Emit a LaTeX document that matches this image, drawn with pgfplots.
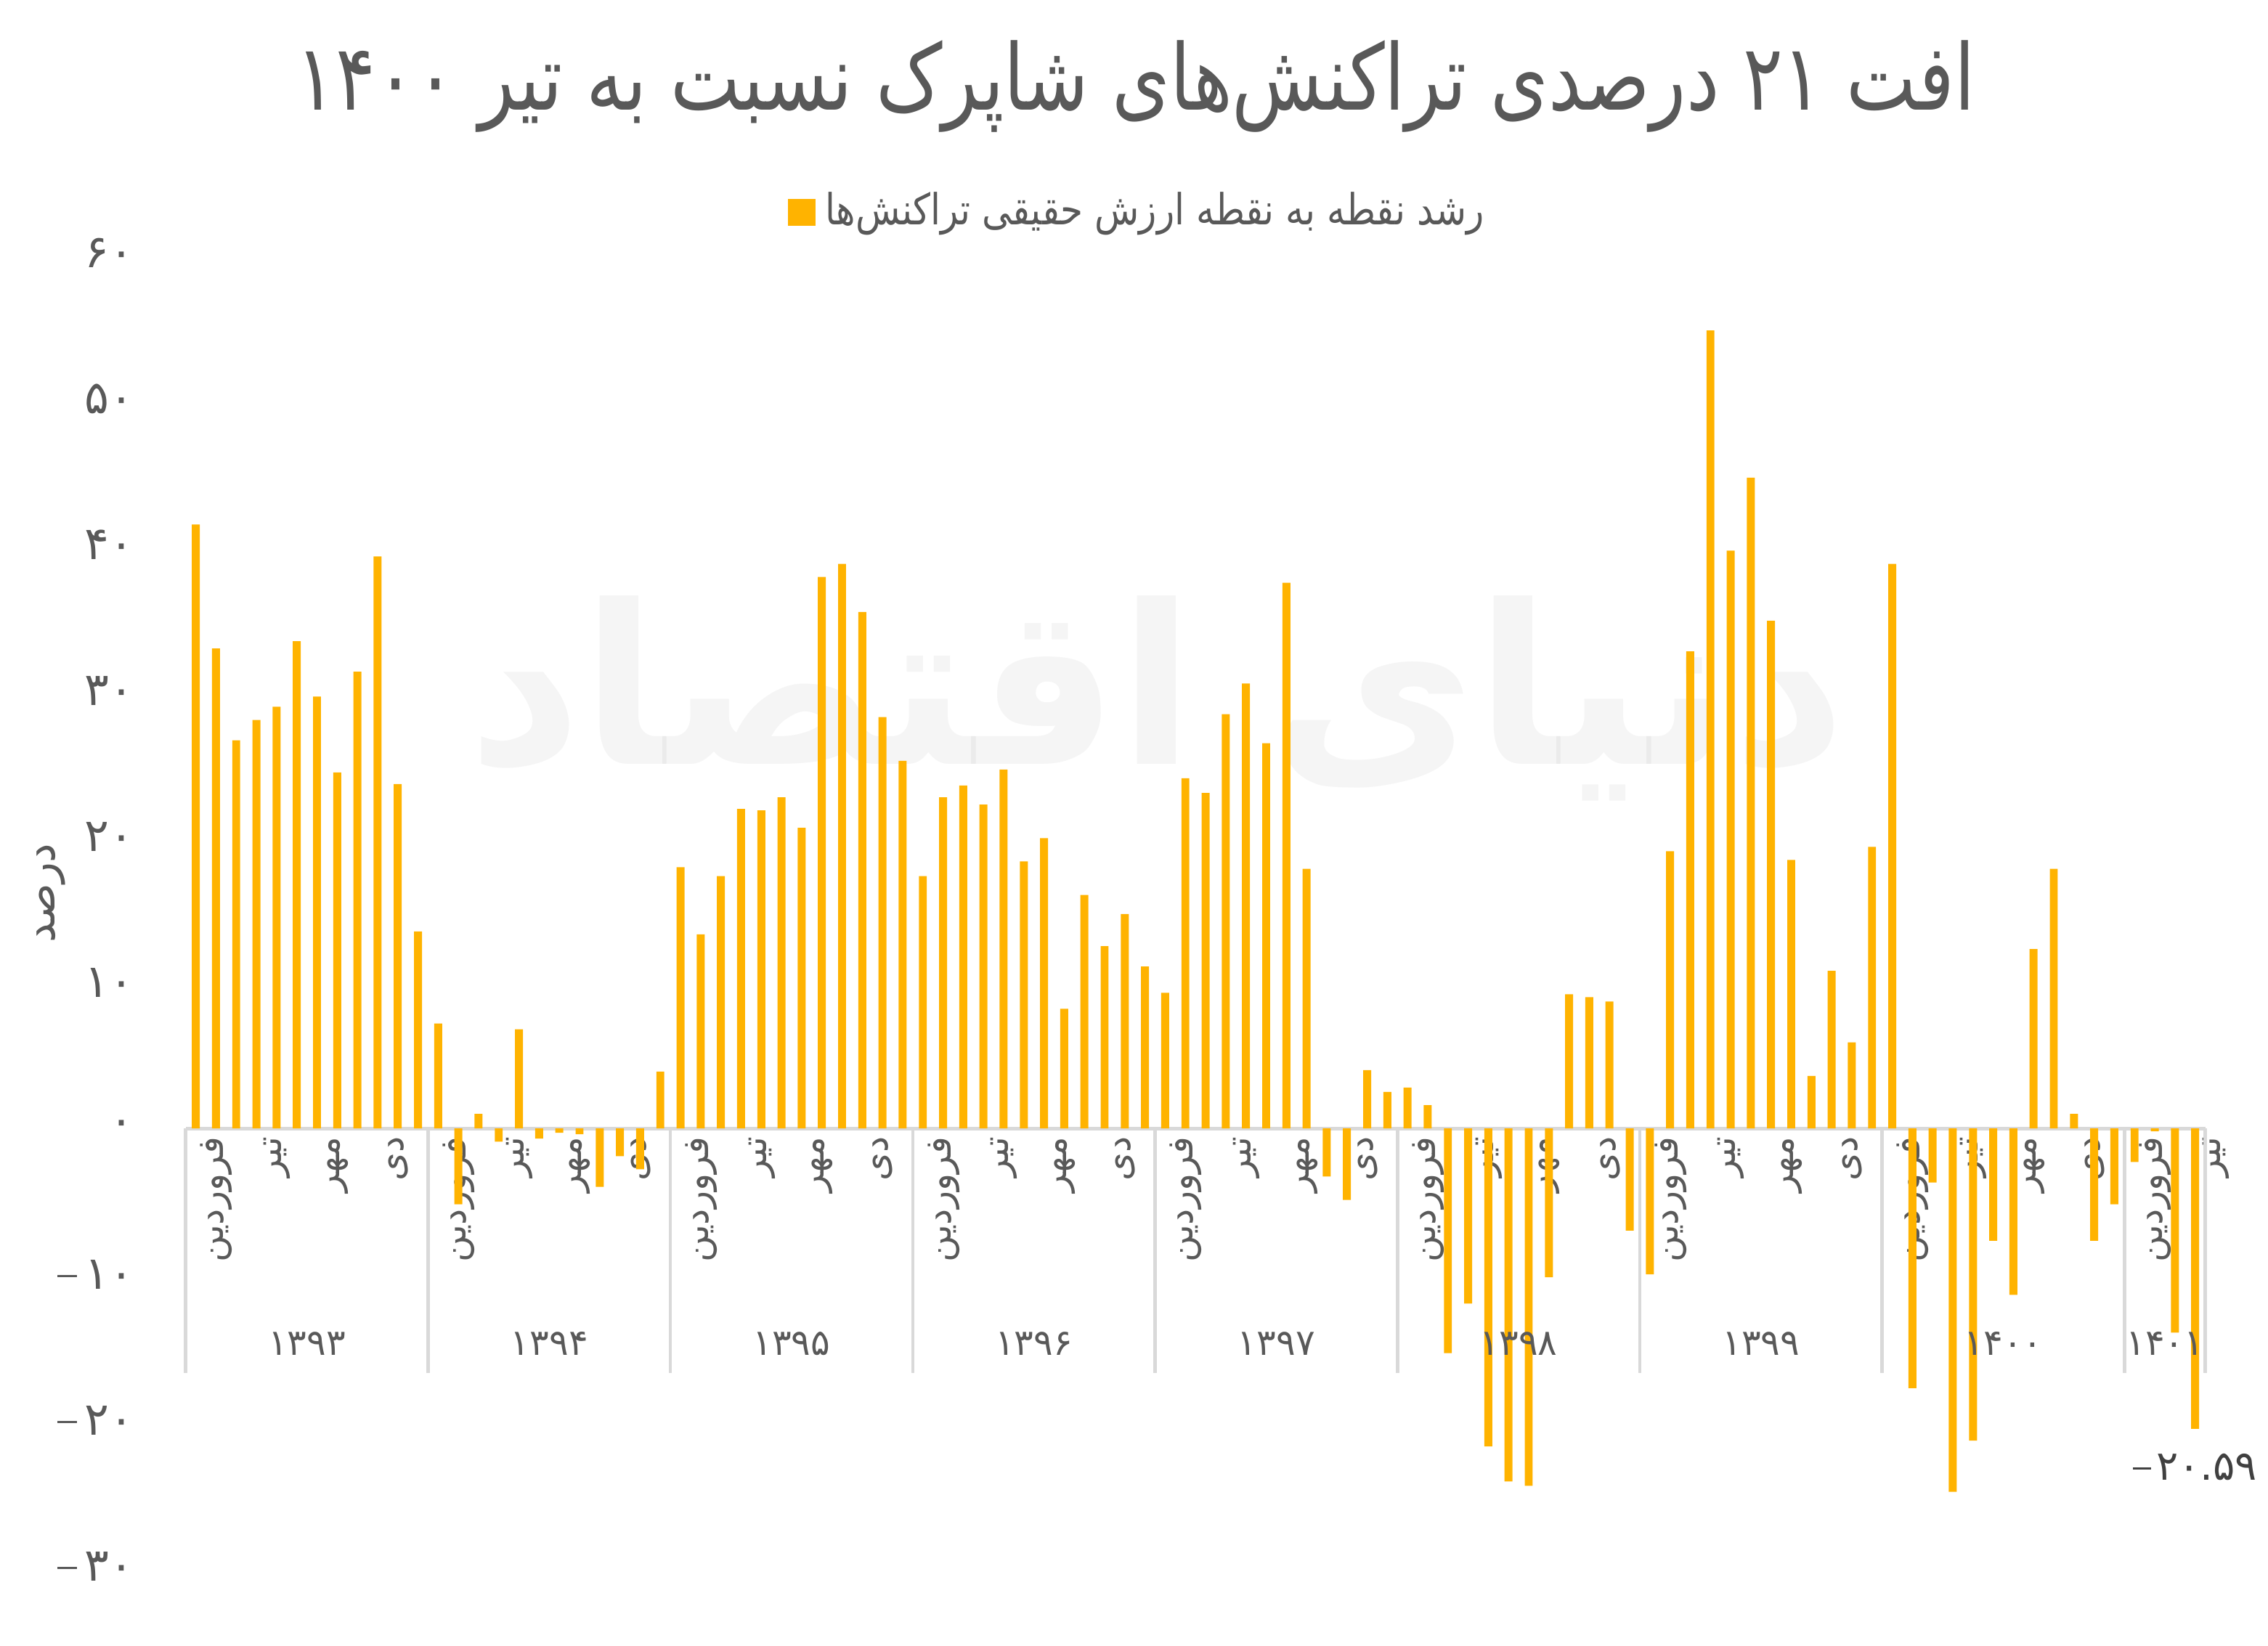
\documentclass[border=0pt]{standalone}
\usepackage{pgfplots}
\pgfplotsset{compat=1.18}
\usepackage{pgfplotstable}
\usepackage{fontspec}
\TeXXeTstate=1
\newfontfamily\arabicfont[Script=Arabic]{DejaVu Sans}
\newfontfamily\titlefont[Script=Arabic,FakeStretch=0.81]{DejaVu Sans}
\newfontfamily\legfont[Script=Arabic,FakeStretch=0.85]{DejaVu Sans}
\definecolor{barc}{HTML}{FFB300}
\definecolor{txt}{HTML}{595959}
\definecolor{sep}{HTML}{D9D9D9}
\definecolor{lbl}{HTML}{404040}
\newcommand{\mn}{\rule[2.4pt]{4pt}{0.45pt}\kern1.6pt}

\pgfplotstableread{
i v
0 41.4
1 32.9
2 26.6
3 28.0
4 28.9
5 33.4
6 29.6
7 24.4
8 31.3
9 39.2
10 23.6
11 13.5
12 7.2
13 -5.2
14 1.0
15 -0.9
16 6.8
17 -0.7
18 -0.3
19 -0.4
20 -4.0
21 -1.9
22 -2.8
23 3.9
24 17.9
25 13.3
26 17.3
27 21.9
28 21.8
29 22.7
30 20.6
31 37.8
32 38.7
33 35.4
34 28.2
35 25.2
36 17.3
37 22.7
38 23.5
39 22.2
40 24.6
41 18.3
42 19.9
43 8.2
44 16.0
45 12.5
46 14.7
47 11.1
48 9.3
49 24.0
50 23.0
51 28.4
52 30.5
53 26.4
54 37.4
55 17.8
56 -3.3
57 -4.9
58 4.0
59 2.5
60 2.8
61 1.6
62 -15.4
63 -12.0
64 -21.8
65 -24.2
66 -24.5
67 -10.2
68 9.2
69 9.0
70 8.7
71 -7.0
72 -10.0
73 19.0
74 32.7
75 54.7
76 39.6
77 44.6
78 34.8
79 18.4
80 3.6
81 10.8
82 5.9
83 19.3
84 38.7
85 -17.8
86 -3.7
87 -24.9
88 -21.4
89 -7.7
90 -11.4
91 12.3
92 17.8
93 1.0
94 -7.7
95 -5.2
96 -2.3
97 -0.2
98 -14.0
99 -20.59
}\datatable

\begin{document}
\begin{tikzpicture}
\path[use as bounding box] (-38.52pt,-16.5pt) rectangle (431.88pt,324.9pt);
\begin{axis}[
  at={(0pt,0pt)}, anchor=south west,
  scale only axis, width=418.86pt, height=272.4pt,
  xmin=-0.5, xmax=99.5, ymin=-30, ymax=60,
  axis x line*=middle, axis y line*=left,
  x axis line style={draw=sep, line width=0.7pt},
  y axis line style={draw=none},
  major tick length=0pt,
  tick style={draw=none},
  clip=false,
  ytick={-30,-20,-10,0,10,20,30,40,50,60},
  yticklabels={\mn۳۰,\mn۲۰,\mn۱۰,۰,۱۰,۲۰,۳۰,۴۰,۵۰,۶۰},
  yticklabel style={font=\arabicfont\fontsize{9.5}{11}\selectfont, text=txt, anchor=east, inner sep=0pt, xshift=-10.6pt},
  xtick={0,3,...,99},
  xticklabels={فروردین,تیر,مهر,دی,فروردین,تیر,مهر,دی,فروردین,تیر,مهر,دی,فروردین,تیر,مهر,دی,فروردین,تیر,مهر,دی,فروردین,تیر,مهر,دی,فروردین,تیر,مهر,دی,فروردین,تیر,مهر,دی,فروردین,تیر},
  xticklabel style={font=\arabicfont\fontsize{7.5}{9}\selectfont, text=txt, fill=none, xshift=4.3pt, rotate=90, anchor=east, inner sep=1.5pt},
  legend style={at={(0.473,1.031)}, anchor=center, draw=none, fill=none,
    font=\legfont\fontsize{8.9}{10}\selectfont, text=txt},
  legend image code/.code={\fill[barc] (0pt,-2.85pt) rectangle (5.7pt,2.85pt);},
]
\node[font=\arabicfont\bfseries\fontsize{46}{50}\selectfont, text=black, text opacity=0.04] at (axis cs:47.6,29.5) {\beginR دنیای اقتصاد\endR};

\addplot[ybar, bar width=1.65pt, bar shift=0pt, fill=barc, draw=none] table[x=i, y=v] {\datatable};
\addlegendentry{\beginR رشد نقطه به نقطه ارزش حقیقی تراکنش^^^^200cها\endR}

\draw[sep, line width=0.7pt] (axis cs:-0.5,0) -- (axis cs:-0.5,-16.75);
\draw[sep, line width=0.7pt] (axis cs:11.5,0) -- (axis cs:11.5,-16.75);
\draw[sep, line width=0.7pt] (axis cs:23.5,0) -- (axis cs:23.5,-16.75);
\draw[sep, line width=0.7pt] (axis cs:35.5,0) -- (axis cs:35.5,-16.75);
\draw[sep, line width=0.7pt] (axis cs:47.5,0) -- (axis cs:47.5,-16.75);
\draw[sep, line width=0.7pt] (axis cs:59.5,0) -- (axis cs:59.5,-16.75);
\draw[sep, line width=0.7pt] (axis cs:71.5,0) -- (axis cs:71.5,-16.75);
\draw[sep, line width=0.7pt] (axis cs:83.5,0) -- (axis cs:83.5,-16.75);
\draw[sep, line width=0.7pt] (axis cs:95.5,0) -- (axis cs:95.5,-16.75);
\draw[sep, line width=0.7pt] (axis cs:99.5,0) -- (axis cs:99.5,-16.75);

\tikzset{yr/.style={font=\arabicfont\fontsize{7.5}{9}\selectfont, text=txt, inner sep=0pt}}
\node[yr] at (axis cs:5.5,-14.77) {۱۳۹۳};
\node[yr] at (axis cs:17.5,-14.77) {۱۳۹۴};
\node[yr] at (axis cs:29.5,-14.77) {۱۳۹۵};
\node[yr] at (axis cs:41.5,-14.77) {۱۳۹۶};
\node[yr] at (axis cs:53.5,-14.77) {۱۳۹۷};
\node[yr] at (axis cs:65.5,-14.77) {۱۳۹۸};
\node[yr] at (axis cs:77.5,-14.77) {۱۳۹۹};
\node[yr] at (axis cs:89.5,-14.77) {۱۴۰۰};
\node[yr] at (axis cs:97.5,-14.77) {۱۴۰۱};

\node[font=\arabicfont\fontsize{8.5}{9}\selectfont, text=lbl, inner sep=0pt] at (axis cs:99,-23.2) {\rule[2.2pt]{3.8pt}{0.45pt}\kern1pt۲۰.۵۹};
\end{axis}

\node[font=\titlefont\fontsize{19}{22}\selectfont, text=txt] at (197pt,306.9pt) {\beginR افت ۲۱ درصدی تراکنش^^^^200cهای شاپرک نسبت به تیر ۱۴۰۰\endR};
\node[font=\arabicfont\fontsize{9}{11}\selectfont, text=txt, rotate=90] at (-27.9pt,139.6pt) {\beginR درصد\endR};
\end{tikzpicture}
\end{document}
